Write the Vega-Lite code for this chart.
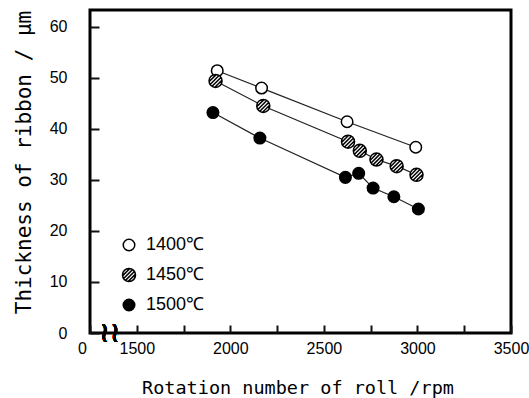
{
  "$schema": "https://vega.github.io/schema/vega-lite/v6.json",
  "width": 421,
  "height": 323,
  "autosize": {"type": "none"},
  "padding": {"left": 90, "top": 10, "right": 18, "bottom": 65},
  "background": "white",
  "config": {
    "view": {"stroke": "black", "strokeWidth": 3},
    "axis": {"domain": false, "grid": false, "labelColor": "black", "labelFont": "Liberation Sans", "labelFontSize": 16, "ticks": true, "tickColor": "#111111", "tickWidth": 2, "titleColor": "black", "titleFont": "DejaVu Sans Mono", "titleFontWeight": "normal", "zindex": 2}
  },
  "data": {"values": [
    {"series": "1400℃", "rpm": 1930, "thickness": 51.4},
    {"series": "1400℃", "rpm": 2167, "thickness": 48.0},
    {"series": "1400℃", "rpm": 2624, "thickness": 41.4},
    {"series": "1400℃", "rpm": 2991, "thickness": 36.4},
    {"series": "1450℃", "rpm": 1921, "thickness": 49.4},
    {"series": "1450℃", "rpm": 2176, "thickness": 44.5},
    {"series": "1450℃", "rpm": 2629, "thickness": 37.5},
    {"series": "1450℃", "rpm": 2692, "thickness": 35.7},
    {"series": "1450℃", "rpm": 2781, "thickness": 34.0},
    {"series": "1450℃", "rpm": 2889, "thickness": 32.7},
    {"series": "1450℃", "rpm": 2995, "thickness": 31.0},
    {"series": "1500℃", "rpm": 1907, "thickness": 43.2},
    {"series": "1500℃", "rpm": 2158, "thickness": 38.2},
    {"series": "1500℃", "rpm": 2615, "thickness": 30.5},
    {"series": "1500℃", "rpm": 2686, "thickness": 31.3},
    {"series": "1500℃", "rpm": 2763, "thickness": 28.4},
    {"series": "1500℃", "rpm": 2874, "thickness": 26.7},
    {"series": "1500℃", "rpm": 3005, "thickness": 24.3}
  ]},
  "encoding": {
    "x": {"field": "rpm", "type": "quantitative",
      "scale": {"domain": [1250, 3500], "nice": false, "zero": false},
      "axis": {"title": "Rotation number of roll /rpm", "titleFontSize": 18.5, "titlePadding": 22, "titleX": 207.5,
        "values": [1250, 1500, 1750, 2000, 2250, 2500, 2750, 3000, 3250, 3500],
        "format": "d",
        "labelExpr": "datum.value == 1250 ? '0' : (datum.value % 500 == 0 ? datum.label : '')",
        "labelOffset": {"condition": {"test": "datum.value == 1250", "value": -8}, "value": 0},
        "labelFlush": false,
        "tickSize": -8,
        "labelPadding": 15}},
    "y": {"field": "thickness", "type": "quantitative",
      "scale": {"domain": [0, 63.3], "nice": false},
      "axis": {"title": "Thickness of ribbon / μm", "titleFontSize": 21, "titlePadding": 15, "titleY": 152,
        "values": [0, 10, 20, 30, 40, 50, 60], "labelFlush": false, "tickSize": -9, "labelPadding": 32}}
  },
  "layer": [
    {"mark": {"type": "line", "color": "#222222", "strokeWidth": 1.2},
     "encoding": {"detail": {"field": "series"}}},
    {"mark": {"type": "point", "filled": false, "size": 133, "strokeWidth": 1.5, "opacity": 1},
     "encoding": {
       "shape": {"field": "series", "type": "nominal",
         "scale": {"domain": ["1400℃", "1450℃", "1500℃"], "range": ["circle", "M1.128,0A1.128,1.128 0 1,1 -1.128,0A1.128,1.128 0 1,1 1.128,0ZM-1.05,0.07L0.07,-1.05M-0.89,0.56L0.56,-0.89M-0.56,0.89L0.89,-0.56M-0.07,1.05L1.05,-0.07", "circle"]},
         "legend": {"title": null, "orient": "none", "legendX": 30, "legendY": 226, "labelFontSize": 18, "labelFont": "Liberation Sans", "labelColor": "black", "rowPadding": 11, "symbolSize": 133, "symbolStrokeWidth": 1.5, "labelOffset": 8}},
       "fill": {"field": "series", "type": "nominal",
         "scale": {"domain": ["1400℃", "1450℃", "1500℃"], "range": ["white", "white", "black"]},
         "legend": {"title": null, "orient": "none", "legendX": 30, "legendY": 226, "labelFontSize": 18, "labelFont": "Liberation Sans", "labelColor": "black", "rowPadding": 11, "symbolSize": 133, "symbolStrokeWidth": 1.5, "labelOffset": 8}},
       "stroke": {"field": "series", "type": "nominal",
         "scale": {"domain": ["1400℃", "1450℃", "1500℃"], "range": ["black", "black", "black"]},
         "legend": {"title": null, "orient": "none", "legendX": 30, "legendY": 226, "labelFontSize": 18, "labelFont": "Liberation Sans", "labelColor": "black", "rowPadding": 11, "symbolSize": 133, "symbolStrokeWidth": 1.5, "labelOffset": 8}}
     }},
    {"mark": {"type": "text", "text": "≀≀", "font": "DejaVu Sans", "fontSize": 28, "baseline": "middle", "align": "center", "color": "black", "dy": 1},
     "encoding": {"x": {"datum": 1355}, "y": {"datum": 0}}}
  ]
}
